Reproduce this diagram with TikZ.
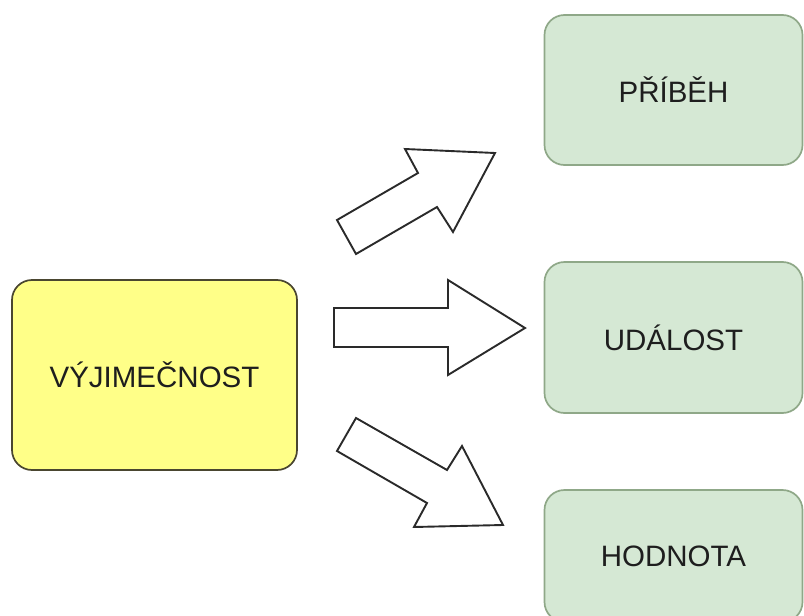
\documentclass[tikz,border=0pt]{standalone}
\usepackage{fontspec}
\setmainfont{Liberation Sans}
\definecolor{ylwfill}{HTML}{FFFF88}
\definecolor{ylwline}{HTML}{4A4630}
\definecolor{grnfill}{HTML}{D5E8D4}
\definecolor{grnline}{HTML}{8FA888}
\definecolor{txt}{HTML}{1E1E1E}
\definecolor{arrline}{HTML}{2A2A2A}
\begin{document}
\begin{tikzpicture}[x=1pt,y=-1pt,
  box/.style={draw, rounded corners=20pt, line width=1.7pt, inner sep=0pt,
    font=\fontsize{29.5}{34}\selectfont, text=txt},
  ybox/.style={box, fill=ylwfill, draw=ylwline, minimum width=285pt, minimum height=190pt},
  gbox/.style={box, fill=grnfill, draw=grnline, minimum width=258pt},
  bigarrow/.style={draw=arrline, fill=white, line width=1.9pt, line join=miter}]
\useasboundingbox (0,0) rectangle (804,616);
\fill[white] (0,0) rectangle (804,616);
\node[ybox] (v) at (154.5,375) {VÝJIMEČNOST};
\node[gbox, minimum height=150pt] (p) at (673.5,90) {PŘÍBĚH};
\node[gbox, minimum height=151pt] (u) at (673.5,337.5) {UDÁLOST};
\node[gbox, minimum height=132pt] (h) at (673.5,556) {HODNOTA};
% upper arrow
\draw[bigarrow] (337,220) -- (418,173) -- (405,149) -- (495,153) -- (453,232) -- (437,207) -- (356,254) -- cycle;
% middle arrow
\draw[bigarrow] (334,308) -- (448,308) -- (448,280) -- (525,328) -- (448,375) -- (448,347) -- (334,347) -- cycle;
% lower arrow
\draw[bigarrow] (356,418) -- (447,470) -- (462,446) -- (503,525) -- (414,527) -- (427,503) -- (337,451) -- cycle;
\end{tikzpicture}
\end{document}
